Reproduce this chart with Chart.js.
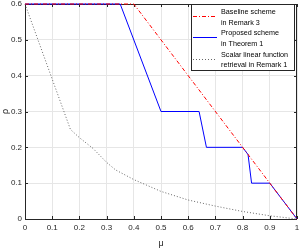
<!DOCTYPE html>
<html>
<head>
<meta charset="utf-8">
<script src="https://cdn.jsdelivr.net/npm/chart.js@4/dist/chart.umd.min.js"></script>
<style>
  html, body { margin: 0; padding: 0; background: #fff; }
  #wrap { width: 300px; height: 249px; }
</style>
</head>
<body>
<div id="wrap"><canvas id="chart" width="300" height="249"></canvas></div>
<script>
// Dados
var baselineMu  = [0, 0.4, 1];
var baselineRho = [0.6, 0.6, 0];

var proposedMu  = [0, 0.35, 0.5, 0.64, 0.667, 0.8, 0.82, 0.833, 0.9, 1];
var proposedRho = [0.6, 0.6, 0.3, 0.3, 0.2, 0.2, 0.18, 0.1, 0.1, 0];

var scalarMu  = [0, 0.167, 0.2, 0.25, 0.3, 0.333, 0.4, 0.5, 0.6, 0.7, 0.8, 0.9, 1];
var scalarRho = [0.6, 0.25, 0.227, 0.197, 0.158, 0.137, 0.11, 0.077, 0.053, 0.036, 0.021, 0.009, 0];

var xTicks = [0, 0.1, 0.2, 0.3, 0.4, 0.5, 0.6, 0.7, 0.8, 0.9, 1];
var yTicks = [0, 0.1, 0.2, 0.3, 0.4, 0.5, 0.6];

var legendLabels = [
    ["Baseline scheme", "in Remark 3"],
    ["Proposed scheme", "in Theorem 1"],
    ["Scalar linear function", "retrieval in Remark 1"]
];

function pontos(xs, ys) {
    return xs.map(function (x, i) { return { x: x, y: ys[i] }; });
}

var axisColor = "#262626";
var familia = "'Liberation Sans', Arial, sans-serif";

// caixa, marcas internas e rótulos dos eixos (estilo MATLAB)
var boxPlugin = {
    id: "box",
    beforeDatasetsDraw: function (chart) {
        var ctx = chart.ctx, a = chart.chartArea;
        var xs = chart.scales.x, ys = chart.scales.y;
        ctx.save();
        ctx.strokeStyle = axisColor;
        ctx.lineWidth = 1;
        ctx.beginPath();
        xTicks.forEach(function (t) {
            var px = Math.round(xs.getPixelForValue(t)) + 0.5;
            ctx.moveTo(px, a.bottom); ctx.lineTo(px, a.bottom - 3);
            ctx.moveTo(px, a.top); ctx.lineTo(px, a.top + 3);
        });
        yTicks.forEach(function (t) {
            var py = Math.round(ys.getPixelForValue(t)) + 0.5;
            ctx.moveTo(a.left, py); ctx.lineTo(a.left + 3, py);
            ctx.moveTo(a.right, py); ctx.lineTo(a.right - 3, py);
        });
        ctx.stroke();
        ctx.strokeRect(Math.round(a.left) + 0.5, Math.round(a.top) + 0.5,
                       Math.round(a.right - a.left) - 1, Math.round(a.bottom - a.top));

        ctx.fillStyle = axisColor;
        ctx.font = "8px " + familia;
        ctx.textAlign = "center";
        ctx.textBaseline = "middle";
        xTicks.forEach(function (t) {
            ctx.fillText(String(t), xs.getPixelForValue(t), a.bottom + 9);
        });
        ctx.textAlign = "right";
        yTicks.forEach(function (t) {
            ctx.fillText(String(t), a.left - 3, ys.getPixelForValue(t));
        });
        ctx.restore();
    },
    afterDraw: function (chart) {
        var ctx = chart.ctx;
        // legenda
        var lx = 191.5, ly = 4.5, lw = 103, lh = 66;
        ctx.save();
        ctx.fillStyle = "#fff";
        ctx.fillRect(lx, ly, lw, lh);
        ctx.strokeStyle = axisColor;
        ctx.lineWidth = 1;
        ctx.strokeRect(lx, ly, lw, lh);
        ctx.font = "7.2px " + familia;
        ctx.textBaseline = "middle";
        ctx.textAlign = "left";
        ctx.fillStyle = "#000";
        chart.data.datasets.forEach(function (ds, i) {
            var y0 = 12 + i * 21.3;
            ctx.save();
            ctx.strokeStyle = ds.borderColor;
            ctx.lineWidth = ds.borderWidth;
            ctx.setLineDash(ds.borderDash || []);
            ctx.beginPath();
            ctx.moveTo(193, Math.round(y0 + 4) + 0.5); ctx.lineTo(217, Math.round(y0 + 4) + 0.5);
            ctx.stroke();
            ctx.restore();
            ctx.fillText(legendLabels[i][0], 221, y0);
            ctx.fillText(legendLabels[i][1], 221, y0 + 10.6);
        });
        ctx.restore();
    }
};

document.addEventListener("DOMContentLoaded", function () {
    var ctx = document.getElementById("chart").getContext("2d");

    new Chart(ctx, {
        type: "line",
        data: {
            datasets: [{
                label: "Baseline scheme in Remark 3",
                data: pontos(baselineMu, baselineRho),
                borderColor: "#ff0000",
                borderWidth: 1,
                borderDash: [4, 2, 1, 2],
                pointRadius: 0,
                clip: false,
                fill: false
            }, {
                label: "Proposed scheme in Theorem 1",
                data: pontos(proposedMu, proposedRho),
                borderColor: "#0000ff",
                borderWidth: 1,
                pointRadius: 0,
                clip: false,
                fill: false
            }, {
                label: "Scalar linear function retrieval in Remark 1",
                data: pontos(scalarMu, scalarRho),
                borderColor: "#666666",
                borderWidth: 1,
                borderDash: [1, 2],
                pointRadius: 0,
                clip: false,
                fill: false
            }]
        },
        options: {
            responsive: false,
            animation: false,
            layout: { padding: { top: 4, right: 3, left: 0, bottom: 0 } },
            plugins: {
                legend: { display: false },
                tooltip: { enabled: false }
            },
            scales: {
                x: {
                    type: "linear",
                    min: 0, max: 1,
                    afterFit: function (s) { s.height = 30; },
                    afterBuildTicks: function (s) { s.ticks = xTicks.map(function (v) { return { value: v }; }); },
                    grid: { color: "#e6e6e6", drawTicks: false },
                    border: { display: false },
                    ticks: { display: false },
                    title: { display: true, text: "μ", color: axisColor, font: { family: familia, size: 9 }, padding: { top: 0, bottom: 0 } }
                },
                y: {
                    type: "linear",
                    min: 0, max: 0.6,
                    afterFit: function (s) { s.width = 25; },
                    afterBuildTicks: function (s) { s.ticks = yTicks.map(function (v) { return { value: v }; }); },
                    grid: { color: "#e6e6e6", drawTicks: false },
                    border: { display: false },
                    ticks: { display: false },
                    title: { display: true, text: "ρ", color: axisColor, font: { family: familia, size: 9 }, padding: { top: 0, bottom: 0 } }
                }
            }
        },
        plugins: [boxPlugin]
    });
});
</script>
</body>
</html>
